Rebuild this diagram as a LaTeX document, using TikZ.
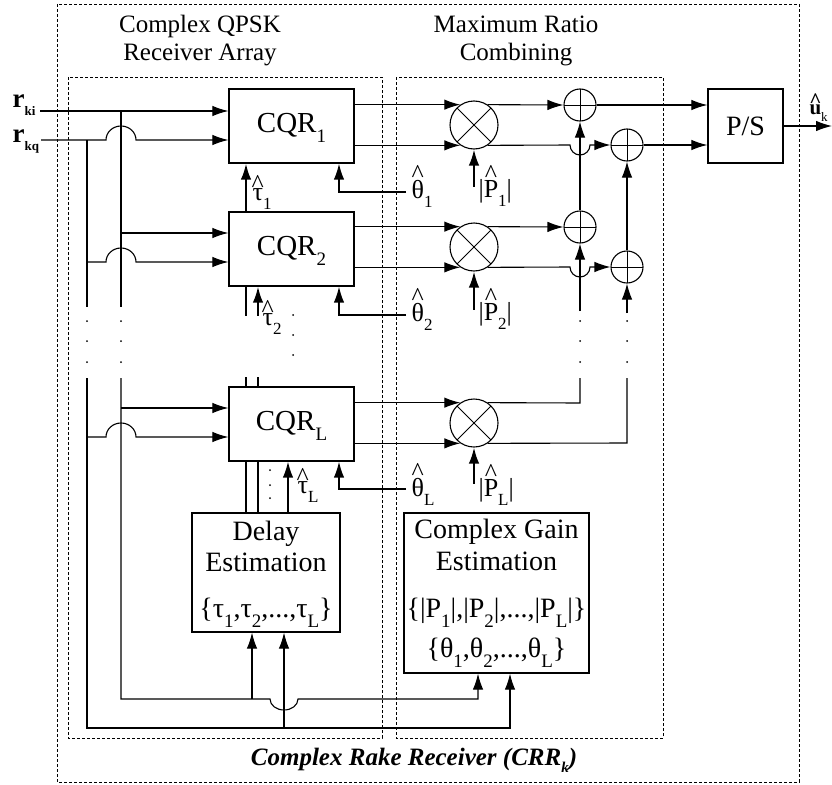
\documentclass[tikz,border=0pt]{standalone}
\usepackage{fontspec}
\setmainfont{Liberation Serif}
\usetikzlibrary{arrows.meta}
\newcommand\fs[1]{\fontsize{#1}{#1}\selectfont}
\newcommand\hatt[2]{\ooalign{#1\cr\hidewidth\raisebox{#2}{\textasciicircum}\hidewidth\cr}}
\newcommand\sbx[1]{\raisebox{-10pt}{\fs{19}#1}}
\newcommand\sbs[1]{\raisebox{-9pt}{\fs{17}#1}}
\begin{document}
\begin{tikzpicture}[x=1pt,y=-1pt,line width=1.1pt,
  >={Latex[length=16pt,width=10.5pt]},
  blk/.style={draw,line width=1.3pt,rectangle,inner sep=0pt},
  mult/.style={draw,circle,minimum size=48pt,inner sep=0pt,line width=1.1pt,
    path picture={\draw[line width=0.9pt] (path picture bounding box.north west) -- (path picture bounding box.south east)
      (path picture bounding box.north east) -- (path picture bounding box.south west);}},
  adder/.style={draw,circle,minimum size=32pt,inner sep=0pt,line width=1.1pt,
    path picture={\draw[line width=0.9pt] (path picture bounding box.north) -- (path picture bounding box.south)
      (path picture bounding box.west) -- (path picture bounding box.east);}},
  dbox/.style={line width=0.9pt,dash pattern=on 3pt off 2pt},
  tk/.style={line width=1.9pt},
  tm/.style={line width=1.4pt},
  txt/.style={inner sep=0pt,font=\fs{28}},
  lbl/.style={inner sep=0pt,font=\fs{26}},
  dotm/.style={fill,circle,inner sep=0pt,minimum size=2pt}]
\useasboundingbox (0,0) rectangle (832,784);
\fill[white] (0,0) rectangle (832,784);

% dashed frames
\draw[dbox] (57,4) rectangle (799,782);
\draw[dbox] (68,77) rectangle (382,738);
\draw[dbox] (396,77) rectangle (663,738);

% titles
\node[inner sep=0pt,font=\fs{25},anchor=base] (t1a) at (200,33) {Complex QPSK};
\node[inner sep=0pt,font=\fs{25},anchor=base] (t1b) at (200,60) {Receiver Array};
\node[inner sep=0pt,font=\fs{25},anchor=base] (t2a) at (516,33) {Maximum Ratio};
\node[inner sep=0pt,font=\fs{25},anchor=base] (t2b) at (516,60) {Combining};
\node[inner sep=0pt,font=\fs{25}\bfseries\itshape,anchor=base] (t3) at (414,765) {Complex Rake Receiver (CRR\raisebox{-7pt}{\fs{15}k})};

% blocks
\node[blk,minimum width=125pt,minimum height=74pt] (cqr1) at (291.5,126) {};
\node[blk,minimum width=125pt,minimum height=74pt] (cqr2) at (291.5,249) {};
\node[blk,minimum width=125pt,minimum height=74pt] (cqr3) at (291.5,424) {};
\node[txt,anchor=base] (c1t) at (291.5,132) {\fs{29}CQR\sbx{1}};
\node[txt,anchor=base] (c2t) at (291.5,255) {\fs{29}CQR\sbx{2}};
\node[txt,anchor=base] (c3t) at (291.5,430) {\fs{29}CQR\sbx{L}};

\node[mult] (m1) at (474,125) {};
\node[mult] (m2) at (474,247) {};
\node[mult] (m3) at (474,423) {};
\node[adder] (a1) at (580,105) {};
\node[adder] (b1) at (627,145) {};
\node[adder] (a2) at (580,227) {};
\node[adder] (b2) at (627,267) {};

\node[blk,minimum width=75pt,minimum height=74pt] (ps) at (745.5,126) {};
\node[txt,anchor=base] (pst) at (745.5,135) {P/S};

\node[blk,minimum width=148pt,minimum height=119pt] (del) at (266,572.5) {};
\node[txt,anchor=base] (dl1) at (266,540) {Delay};
\node[txt,anchor=base] (dl2) at (266,571) {Estimation};
\node[txt,anchor=base] (dl3) at (266,617) {\{τ\sbx{1},τ\sbx{2},...,τ\sbx{L}\}};

\node[blk,minimum width=185pt,minimum height=160pt] (cge) at (496.5,593) {};
\node[txt,anchor=base] (cg1) at (496.5,538) {Complex Gain};
\node[txt,anchor=base] (cg2) at (496.5,570) {Estimation};
\node[txt,anchor=base] (cg3) at (496.5,617) {\{|P\sbx{1}|,|P\sbx{2}|,...,|P\sbx{L}|\}};
\node[txt,anchor=base] (cg4) at (496.5,657) {\{θ\sbx{1},θ\sbx{2},...,θ\sbx{L}\}};

% input labels
\node[inner sep=0pt,anchor=base west,font=\fs{27}\bfseries] (rki) at (12,107) {r\raisebox{-8pt}{\fs{13}ki}};
\node[inner sep=0pt,anchor=base west,font=\fs{27}\bfseries] (rkq) at (12,142) {r\raisebox{-8pt}{\fs{13}kq}};
\coordinate (ri) at (40,111);
\coordinate (rq) at (41,140);

% inputs row 1
\draw[->] (ri) -- (cqr1.west |- ri);
\draw[->] (rq) -- (106,140) arc[start angle=180,end angle=360,x radius=15,y radius=14] -- (cqr1.west |- rq);
% vertical buses
\draw (121,111) -- (121,307);
\draw (87,140) -- (87,307);
% row 2
\coordinate (i2a) at (121,233);
\coordinate (i2b) at (87,262);
\draw[->] (i2a) -- (cqr2.west |- i2a);
\draw[->] (i2b) -- (106,262) arc[start angle=180,end angle=360,x radius=15,y radius=14] -- (cqr2.west |- i2b);
% row L
\coordinate (i3a) at (121,408);
\coordinate (i3b) at (87,437);
\draw[->] (i3a) -- (cqr3.west |- i3a);
\draw[->] (i3b) -- (106,437) arc[start angle=180,end angle=360,x radius=15,y radius=14] -- (cqr3.west |- i3b);
% dots on buses
\foreach \xx in {87,121,580,627} {\foreach \yy in {321,341,362} {\node[dotm] at (\xx,\yy) {};}}
% lower buses
\coordinate (c1) at (478,699);
\coordinate (c2) at (510,728);
\coordinate (d1) at (252,699);
\coordinate (d2) at (284,728);
\draw[->] (121,378) -- (121,699) -- (270,699) arc[start angle=180,end angle=0,x radius=14,y radius=11] -- (c1) -- (cge.south -| c1);
\draw[->] (87,378) -- (87,728) -- (c2) -- (cge.south -| c2);
\draw[->] (d1) -- (del.south -| d1);
\draw[->] (d2) -- (del.south -| d2);

% CQR -> multipliers
\draw[->] (cqr1.east |- m1.124) -- (m1.124);
\draw[->] (cqr1.east |- m1.236) -- (m1.236);
\draw[->] (cqr2.east |- m2.124) -- (m2.124);
\draw[->] (cqr2.east |- m2.236) -- (m2.236);
\draw[->] (cqr3.east |- m3.124) -- (m3.124);
\draw[->] (cqr3.east |- m3.236) -- (m3.236);

% multipliers -> adders
\draw[->] (m1.56) -- (a1.west);
\draw[->] (m1.304) -- (570,145) arc[start angle=180,end angle=0,radius=10] -- (b1.west);
\draw[->] (m2.56) -- (a2.west);
\draw[->] (m2.304) -- (570,267) arc[start angle=180,end angle=0,radius=10] -- (b2.west);
\draw (m3.56) -- (580,403) -- (580,378);
\draw (m3.304) -- (627,443) -- (627,378);
\draw[->] (a2.north) -- (a1.south);
\draw[->] (b2.north) -- (b1.south);
\draw[->] (580,311) -- (a2.south);
\draw[->] (627,313) -- (b2.south);
% adders -> P/S
\draw[->] (a1.east) -- (ps.west |- a1.east);
\draw[->] (b1.east) -- (ps.west |- b1.east);
\coordinate (uk) at (832,126);
\draw[->] (ps.east) -- (uk);
\node[inner sep=0pt,anchor=base west,font=\fs{21}] (ukl) at (809,114) {\textbf{\hatt{u}{7pt}}\raisebox{-7pt}{\fs{13}k}};

% tau arrows
\draw[->,tk] ([xshift=-45.5pt]cqr2.north) -- ([xshift=-45.5pt]cqr1.south);
\draw ([xshift=-45.5pt]cqr2.south) -- ([xshift=-45.5pt,yshift=-29pt]cqr2.south);
\draw[->,tk] ([xshift=-33.5pt,yshift=-29pt]cqr2.south) -- ([xshift=-33.5pt]cqr2.south);
\draw ([xshift=-45.5pt]cqr3.north) -- ([xshift=-45.5pt,yshift=9pt]cqr3.north);
\draw ([xshift=-33.5pt]cqr3.north) -- ([xshift=-33.5pt,yshift=9pt]cqr3.north);
\draw ([xshift=-45.5pt]cqr3.south) -- ([xshift=-20pt]del.north);
\draw ([xshift=-33.5pt]cqr3.south) -- ([xshift=-8pt]del.north);
\draw[->,tm] ([xshift=22pt]del.north) -- ([xshift=-3.5pt]cqr3.south);
\foreach \yy in {315,335,355} {\node[dotm] at (293,\yy) {};}
\foreach \yy in {470,485,498} {\node[dotm] at (270,\yy) {};}
\node[lbl,anchor=base west] (tau1) at (252,200) {\hatt{τ}{8pt}\sbs{1}};
\node[lbl,anchor=base west] (tau2) at (262,325) {\hatt{τ}{8pt}\sbs{2}};
\node[lbl,anchor=base west] (tau3) at (297,493) {\hatt{τ}{8pt}\sbs{L}};

% theta arrows
\coordinate (th1) at (406,192);
\coordinate (th2) at (406,315);
\coordinate (th3) at (406,489);
\draw[->,tm] (th1) -| ([xshift=47.5pt]cqr1.south);
\draw[->,tm] (th2) -| ([xshift=47.5pt]cqr2.south);
\draw[->,tm] (th3) -| ([xshift=47.5pt]cqr3.south);
\node[lbl,anchor=base west] (tl1) at (411,198) {\hatt{θ}{16pt}\sbs{1}};
\node[lbl,anchor=base west] (tl2) at (411,321) {\hatt{θ}{16pt}\sbs{2}};
\node[lbl,anchor=base west] (tl3) at (411,496) {\hatt{θ}{16pt}\sbs{L}};

% P arrows
\draw[->,tk] ([yshift=-37pt]m1.south) -- (m1.south);
\draw[->,tk] ([yshift=-38pt]m2.south) -- (m2.south);
\draw[->,tk] ([yshift=-36pt]m3.south) -- (m3.south);
\node[lbl,anchor=base west] (pl1) at (478,197) {|\hatt{P}{15pt}\sbs{1}|};
\node[lbl,anchor=base west] (pl2) at (478,320) {|\hatt{P}{15pt}\sbs{2}|};
\node[lbl,anchor=base west] (pl3) at (478,496) {|\hatt{P}{15pt}\sbs{L}|};
\end{tikzpicture}
\end{document}
